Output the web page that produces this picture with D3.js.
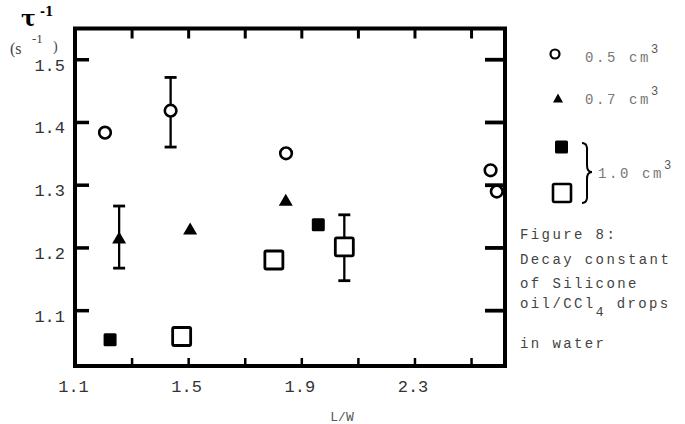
<!DOCTYPE html>
<html><head><meta charset="utf-8">
<script src="https://cdn.jsdelivr.net/npm/d3@7"></script>
<style>body{margin:0;background:#fff} svg{display:block}</style>
</head><body>
<svg id="chart" width="685" height="424"></svg>
<script>
// ---- data ----
const xDomain = [1.1, 2.62];
const yDomain = [1.011, 1.549];
const xTickValues = [1.3, 1.5, 1.7, 1.9, 2.1, 2.3, 2.5];
const xTickLabels = [1.1, 1.5, 1.9, 2.3];
const yTickValues = [1.1, 1.2, 1.3, 1.4, 1.5];

// 0.5 cm^3 : open circles
const vol05 = [
  {x: 1.206, y: 1.383},
  {x: 1.438, y: 1.418, lo: 1.360, hi: 1.471},
  {x: 1.846, y: 1.350},
  {x: 2.569, y: 1.323},
  {x: 2.591, y: 1.289}
];
// 0.7 cm^3 : filled triangles
const vol07 = [
  {x: 1.256, y: 1.216, lo: 1.167, hi: 1.266},
  {x: 1.507, y: 1.230},
  {x: 1.845, y: 1.276}
];
// 1.0 cm^3 : filled squares
const vol10filled = [
  {x: 1.224, y: 1.053},
  {x: 1.960, y: 1.236}
];
// 1.0 cm^3 : open squares
const vol10open = [
  {x: 1.477, y: 1.058},
  {x: 1.803, y: 1.180},
  {x: 2.052, y: 1.201, lo: 1.147, hi: 1.252}
];
const legendLabels = ["0.5 cm", "0.7 cm", "1.0 cm"];
const captionLines = ["Figure 8:", "Decay constant", "of Silicone", "oil/CCl", "in water"];

// ---- drawing ----
const svg = d3.select("#chart");
const x = d3.scaleLinear().domain(xDomain).range([75, 505]);
const y = d3.scaleLinear().domain(yDomain).range([366, 28.5]);
const [x0, x1] = x.range();
const [yb, yt] = y.range();
const mono = "'Liberation Mono','DejaVu Sans Mono',monospace";

// tick marks (inward)
function tickAxis(axis, tx, ty, sw) {
  const g = svg.append("g").attr("transform", `translate(${tx},${ty})`).call(axis);
  g.select(".domain").remove();
  g.selectAll("line").attr("stroke", "#000").attr("stroke-width", sw);
  g.selectAll("text").remove();
}
tickAxis(d3.axisLeft(y).tickValues(yTickValues).tickSize(-14), x0, 0, 3.5);
tickAxis(d3.axisRight(y).tickValues(yTickValues).tickSize(-20), x1, 0, 3.8);
tickAxis(d3.axisTop(x).tickValues(xTickValues).tickSize(-10), 0, yt, 3);
tickAxis(d3.axisBottom(x).tickValues(xTickValues).tickSize(-8), 0, yb, 2.5);

// frame
svg.append("rect").attr("x", x0).attr("y", yt).attr("width", x1 - x0).attr("height", yb - yt)
  .attr("fill", "none").attr("stroke", "#000").attr("stroke-width", 4);

// tick labels
const yl = svg.append("g").attr("transform", `translate(${x0},0)`)
  .call(d3.axisLeft(y).tickValues(yTickValues).tickSize(0).tickPadding(10).tickFormat(d3.format(".1f")));
yl.select(".domain").remove();
yl.attr("font-family", mono);
yl.selectAll("text").attr("font-size", 17).attr("fill", "#333").attr("dy", "11px");

const xl = svg.append("g").attr("transform", `translate(0,${yb})`)
  .call(d3.axisBottom(x).tickValues(xTickLabels).tickSize(0).tickPadding(14).tickFormat(d3.format(".1f")));
xl.select(".domain").remove();
xl.attr("font-family", mono);
xl.selectAll("text").attr("font-size", 17).attr("fill", "#333").attr("dx", "-2px");

// axis titles
svg.append("text").attr("x", 342).attr("y", 421).attr("text-anchor", "middle")
  .attr("font-family", mono).attr("font-size", 13).attr("fill", "#555").text("L/W");
svg.append("text").attr("x", 21).attr("y", 26).attr("font-family", "'DejaVu Serif',serif")
  .attr("font-weight", "bold").attr("font-size", 22).attr("fill", "#000").text("τ");
svg.append("text").attr("x", 40).attr("y", 16).attr("font-family", "'DejaVu Serif',serif")
  .attr("font-weight", "bold").attr("font-size", 12).attr("fill", "#000").text("-1");
svg.append("text").attr("x", 10).attr("y", 54).attr("font-family", "'Liberation Serif',serif")
  .attr("font-size", 16).attr("fill", "#444").text("(s");
svg.append("text").attr("x", 32).attr("y", 43).attr("font-family", "'Liberation Serif',serif")
  .attr("font-size", 13).attr("fill", "#444").text("-1");
svg.append("text").attr("x", 53).attr("y", 51).attr("font-family", "'Liberation Serif',serif")
  .attr("font-size", 14).attr("fill", "#444").text(")");

// error bars
const errs = [...vol05, ...vol07, ...vol10open].filter(d => d.lo !== undefined);
const eg = svg.append("g").attr("stroke", "#000").attr("stroke-width", 2.3);
errs.forEach(d => {
  eg.append("line").attr("x1", x(d.x)).attr("x2", x(d.x)).attr("y1", y(d.hi)).attr("y2", y(d.lo));
  [d.hi, d.lo].forEach(v => eg.append("line").attr("x1", x(d.x) - 6).attr("x2", x(d.x) + 6)
    .attr("y1", y(v)).attr("y2", y(v)).attr("stroke-width", 2.8));
});

// markers
const tri = (cx, cy, w, h) => `M${cx - w / 2},${cy + h / 2}L${cx + w / 2},${cy + h / 2}L${cx},${cy - h / 2}Z`;
svg.append("g").selectAll("rect").data(vol10open).join("rect")
  .attr("x", d => x(d.x) - 9).attr("y", d => y(d.y) - 9).attr("width", 18).attr("height", 18)
  .attr("rx", 1.5).attr("fill", "#fff").attr("stroke", "#000").attr("stroke-width", 2.8);
svg.append("g").selectAll("rect").data(vol10filled).join("rect")
  .attr("x", d => x(d.x) - 6.5).attr("y", d => y(d.y) - 6.5).attr("width", 13).attr("height", 13)
  .attr("rx", 1.5).attr("fill", "#000");
svg.append("g").selectAll("path").data(vol07).join("path")
  .attr("d", d => tri(x(d.x), y(d.y), 14, 12)).attr("fill", "#000");
svg.append("g").selectAll("circle").data(vol05).join("circle")
  .attr("cx", d => x(d.x)).attr("cy", d => y(d.y)).attr("r", 5.8)
  .attr("fill", "#fff").attr("stroke", "#000").attr("stroke-width", 2.6);

// legend
const lg = svg.append("g");
lg.append("circle").attr("cx", 555).attr("cy", 54).attr("r", 4.5).attr("fill", "none")
  .attr("stroke", "#000").attr("stroke-width", 2.2);
lg.append("path").attr("d", tri(558, 98, 10, 9)).attr("fill", "#000");
lg.append("rect").attr("x", 555).attr("y", 140.5).attr("width", 13).attr("height", 13).attr("rx", 1.5).attr("fill", "#000");
lg.append("rect").attr("x", 553).attr("y", 184).attr("width", 18).attr("height", 18).attr("rx", 1.5)
  .attr("fill", "#fff").attr("stroke", "#000").attr("stroke-width", 2.6);
lg.append("path").attr("d", "M582,143Q588,143 587,152L587,165Q587,172 592,172Q587,172 587,179L587,194Q588,203 582,203")
  .attr("fill", "none").attr("stroke", "#000").attr("stroke-width", 2);
const legPos = [[585, 62], [585, 104], [598, 178]];
legendLabels.forEach((t, i) => {
  const tx = lg.append("text").attr("x", legPos[i][0]).attr("y", legPos[i][1])
    .attr("font-family", mono).attr("font-size", 14).attr("letter-spacing", 2.6).attr("fill", "#777");
  tx.append("tspan").text(t);
  tx.append("tspan").attr("dy", -9).attr("font-size", 12).attr("fill", "#555").text("3");
});

// caption
const capY = [239, 264, 288, 308, 348];
captionLines.forEach((t, i) => {
  const tx = svg.append("text").attr("x", 520).attr("y", capY[i]).attr("font-family", mono)
    .attr("font-size", 14).attr("letter-spacing", 2.4).attr("fill", "#444");
  tx.append("tspan").text(t);
  if (t === "oil/CCl") {
    tx.append("tspan").attr("dy", 8).attr("font-size", 13).text("4");
    tx.append("tspan").attr("dy", -8).text(" drops");
  }
});
</script>
</body></html>
